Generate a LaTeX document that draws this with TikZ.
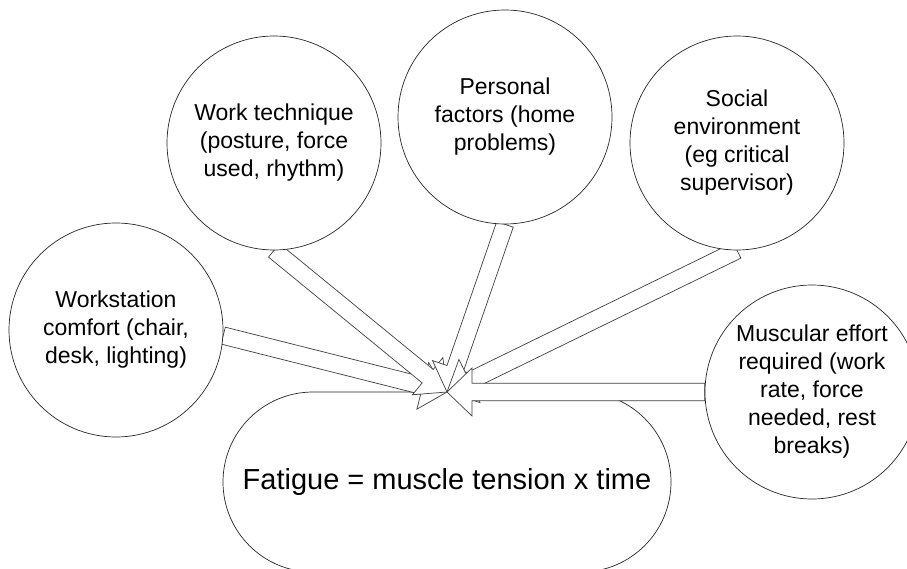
\documentclass[tikz,border=0pt]{standalone}
\usepackage{fontspec}
\setmainfont{Liberation Sans}
\usetikzlibrary{calc,shapes.misc}

% block arrow dimensions
\newcommand{\shaftw}{8.7pt}
\newcommand{\headl}{25pt}
\newcommand{\headw}{24pt}

% white block arrow from #1 to the tip #2
\newcommand{\fatarrow}[2]{%
  \filldraw[arrowline]
    ($(#1)!\shaftw!90:(#2)$) --
    ($(#2)!\headl!(#1)!\shaftw!90:(#2)$) --
    ($(#2)!\headl!(#1)!\headw!90:(#2)$) --
    (#2) --
    ($(#2)!\headl!(#1)!\headw!-90:(#2)$) --
    ($(#2)!\headl!(#1)!\shaftw!-90:(#2)$) --
    ($(#1)!\shaftw!-90:(#2)$) -- cycle;}

\tikzset{
  factor/.style={circle, draw=black!85, line width=0.7pt, fill=white,
    minimum size=214pt, inner sep=0pt, align=center,
    font=\fontsize{23}{28}\selectfont},
  outcome/.style={rounded rectangle, draw=black!85, line width=0.7pt,
    fill=white, minimum width=448pt, minimum height=180pt, inner sep=0pt,
    font=\fontsize{29}{34}\selectfont},
  arrowline/.style={draw=black!75, line width=0.7pt, fill=white,
    line join=miter}
}

\begin{document}
\begin{tikzpicture}[x=1pt, y=-1pt]
  \useasboundingbox (0,0) rectangle (907,568);
  \fill[white] (0,0) rectangle (907,568);
  \clip (0,0) rectangle (907,568);

  % result of all factors
  \node[outcome] (fat) at (447,482) {Fatigue = muscle tension x time};

  \coordinate (tip) at (447,392);

  % contributing factors (positions only; arrows are drawn underneath)
  \path
    (116,330) coordinate (wsc)
    (274,143) coordinate (wtc)
    (505,117) coordinate (pfc)
    (737,143) coordinate (sec)
    (812,392) coordinate (muc);

  \begin{scope}[every node/.style={factor, draw=none, fill=none}]
    \node (ws) at (wsc) {};
    \node (wt) at (wtc) {};
    \node (pf) at (pfc) {};
    \node (se) at (sec) {};
    \node (mu) at (muc) {};
  \end{scope}

  \fatarrow{ws.-3}{tip}
  \fatarrow{wt.south}{tip}
  \fatarrow{pf.south}{tip}
  \fatarrow{se.south}{tip}
  \fatarrow{mu.west}{tip}

  \node[factor] (wsb) at (wsc) {Workstation\\comfort (chair,\\desk, lighting)};
  \node[factor] (wtb) at (wtc) {Work technique\\(posture, force\\used, rhythm)};
  \node[factor] (pfb) at (pfc) {Personal\\factors (home\\problems)};
  \node[factor] (seb) at (sec) {Social\\environment\\(eg critical\\supervisor)};
  \node[factor] (mub) at (muc) {Muscular effort\\required (work\\rate, force\\needed, rest\\breaks)};
\end{tikzpicture}
\end{document}
